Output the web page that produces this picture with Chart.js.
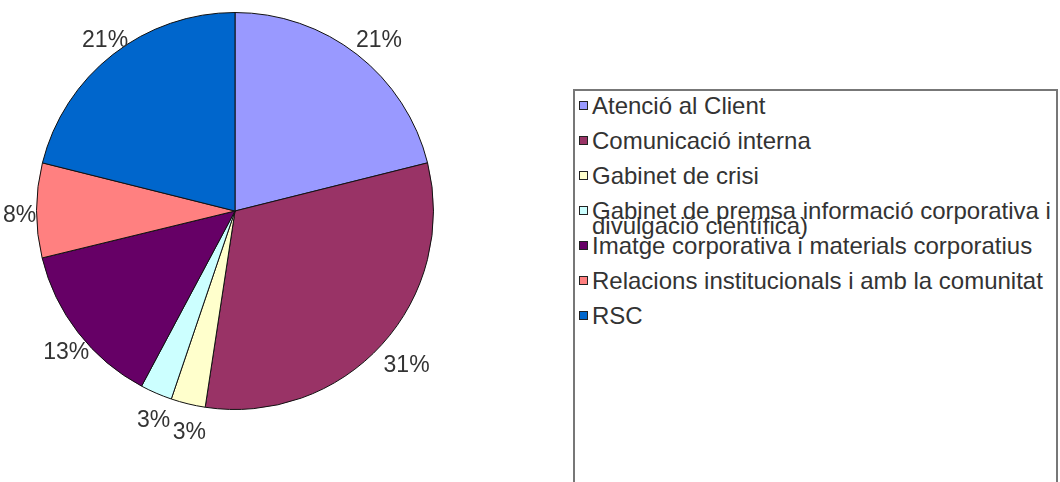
<!DOCTYPE html>
<html>
<head>
<meta charset="utf-8">
<script src="https://cdn.jsdelivr.net/npm/chart.js@4"></script>
<style>
  body { margin: 0; background: #fff; width: 1060px; height: 482px; overflow: hidden; position: relative; font-family: "Liberation Sans", Arial, sans-serif; }
  #pieWrap { position: absolute; left: 0; top: 0; width: 470px; height: 482px; }
  #leyenda { position: absolute; left: 573px; top: 89px; width: 485px; height: 420px; border: 2px solid #777; border-bottom: none; box-sizing: border-box; }
  .item { position: absolute; left: 2px; height: 35px; width: 475px; color: #333; font-size: 24px; }
  .item .caja { position: absolute; left: 2px; top: 4px; width: 7px; height: 7px; border: 1px solid #222; }
  .item .txt { position: absolute; left: 15px; top: 1px; width: 462px; line-height: 15px; }
</style>
</head>
<body>
<div id="pieWrap"><canvas id="grafico"></canvas></div>
<div id="leyenda"></div>
<script>
const categorias = [
  'Atenció al Client',
  'Comunicació interna',
  'Gabinet de crisi',
  'Gabinet de premsa informació corporativa i divulgació científica)',
  'Imatge corporativa i materials corporatius',
  'Relacions institucionals i amb la comunitat',
  'RSC'
];
const valores = [21.1, 31.3, 2.8, 2.6, 13.4, 7.7, 21.1];
const colores = ['#9999FF', '#993366', '#FFFFCC', '#CCFFFF', '#660066', '#FF8080', '#0066CC'];

// leyenda en html
const leyenda = document.getElementById('leyenda');
categorias.forEach((c, i) => {
  const div = document.createElement('div');
  div.className = 'item';
  div.style.top = (6 + i * 35) + 'px';
  div.innerHTML = '<span class="caja" style="background:' + colores[i] + '"></span><span class="txt"></span>';
  div.querySelector('.txt').textContent = c;
  leyenda.appendChild(div);
});
// las de una sola linea van centradas, la larga se monta encima de la siguiente
document.querySelectorAll('.item .txt').forEach(t => {
  if (t.offsetHeight < 20) { t.style.lineHeight = '26px'; t.style.top = '-4px'; }
});

const etiquetasPct = {
  id: 'etiquetasPct',
  afterDatasetsDraw(chart) {
    const ctx = chart.ctx;
    const meta = chart.getDatasetMeta(0);
    const total = valores.reduce((a, b) => a + b, 0);
    ctx.save();
    ctx.font = '23px "Liberation Sans", Arial, sans-serif';
    ctx.fillStyle = '#333';
    ctx.textAlign = 'center';
    ctx.textBaseline = 'middle';
    meta.data.forEach((arc, i) => {
      const p = arc.getProps(['x', 'y', 'startAngle', 'endAngle', 'outerRadius']);
      const mid = (p.startAngle + p.endAngle) / 2;
      const r = p.outerRadius + 24;
      ctx.fillText(Math.round(valores[i] / total * 100) + '%', p.x + Math.cos(mid) * r + 7, p.y + Math.sin(mid) * r + 5);
    });
    ctx.restore();
  }
};

new Chart(document.getElementById('grafico'), {
  type: 'pie',
  data: {
    labels: categorias,
    datasets: [{
      data: valores,
      backgroundColor: colores,
      borderColor: '#111',
      borderWidth: 1
    }]
  },
  options: {
    responsive: true,
    maintainAspectRatio: false,
    animation: false,
    layout: { padding: { top: 12, bottom: 72, left: 36, right: 36 } },
    plugins: {
      legend: { display: false },
      tooltip: { enabled: false }
    }
  },
  plugins: [etiquetasPct]
});
</script>
</body>
</html>
